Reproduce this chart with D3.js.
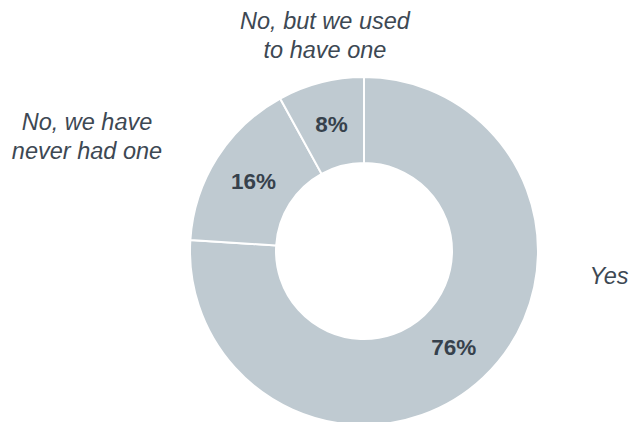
<!DOCTYPE html>
<html>
<head>
<meta charset="UTF-8">
<script src="https://d3js.org/d3.v7.min.js"></script>
<style>
  body { margin: 0; background: #fff; }
  text { font-family: "Liberation Sans", Arial, sans-serif; }
</style>
</head>
<body>
<div id="chart"></div>
<script>
// data
var categories = ["Yes", "No, we have never had one", "No, but we used to have one"];
var shares = [76, 16, 8];
var valueLabels = ["76%", "16%", "8%"];
// outside labels, split into lines
var outerLines = [["Yes"], ["No, we have", "never had one"], ["No, but we used", "to have one"]];

var width = 631, height = 422;
var cx = 364, cy = 251, outerR = 174, innerR = 88;

var svg = d3.select("#chart").append("svg")
  .attr("width", width)
  .attr("height", height);

var g = svg.append("g")
  .attr("transform", "translate(" + cx + "," + cy + ")");

var pie = d3.pie().sort(null).value(function(d) { return d; });
var arc = d3.arc().innerRadius(innerR).outerRadius(outerR);
var arcs = pie(shares);

g.selectAll("path")
  .data(arcs)
  .enter()
  .append("path")
    .attr("d", arc)
    .attr("fill", "#bfcad1")
    .attr("stroke", "#fff")
    .attr("stroke-width", 2);

g.selectAll("text.val")
  .data(arcs)
  .enter()
  .append("text")
    .attr("class", "val")
    .attr("transform", function(d) { return "translate(" + arc.centroid(d) + ")"; })
    .attr("dy", "0.36em")
    .attr("text-anchor", "middle")
    .style("font-size", "22.5px")
    .style("font-weight", "bold")
    .attr("fill", "#36414c")
    .text(function(d, i) { return valueLabels[i]; });

// outer label anchors (page coords), one per category
var labelPos = [[609, 284], [87, 130], [325, 29]];

outerLines.forEach(function(lines, i) {
  var t = svg.append("text")
    .attr("x", labelPos[i][0])
    .attr("y", labelPos[i][1])
    .attr("text-anchor", "middle")
    .style("font-size", "23.5px")
    .style("font-style", "italic")
    .attr("fill", "#3d4853");
  lines.forEach(function(line, j) {
    t.append("tspan")
      .attr("x", labelPos[i][0])
      .attr("dy", j == 0 ? 0 : 29)
      .text(line);
  });
});
</script>
</body>
</html>
